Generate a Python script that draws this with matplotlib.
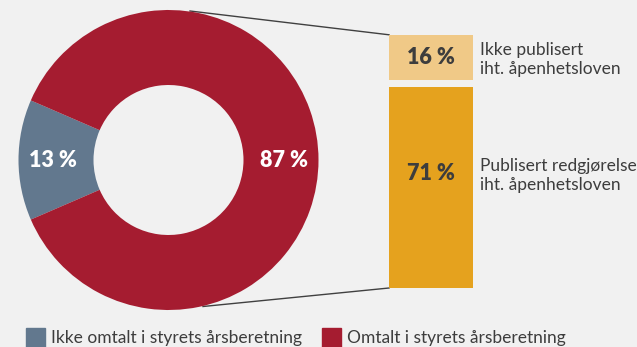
import matplotlib.pyplot as plt
from matplotlib.patches import Rectangle

# donut: omtalt / ikke omtalt i styrets årsberetning
donut_labels = ['Ikke omtalt i styrets årsberetning', 'Omtalt i styrets årsberetning']
donut_values = [13, 87]
donut_colors = ['#62788e', '#a51c30']

# søyle: fordeling av de 87 %
bar_labels = ['Publisert redgjørelse\niht. åpenhetsloven', 'Ikke publisert\niht. åpenhetsloven']
bar_values = [71, 16]
bar_colors = ['#e5a21e', '#f0c987']

bg = '#f1f1f1'
txt = '#3d3d3d'
plt.rcParams['font.family'] = ['Lato', 'DejaVu Sans']

fig = plt.figure(figsize=(6.37, 3.47), dpi=100, facecolor=bg)
ax = fig.add_axes([0, 0, 1, 1])
ax.set_facecolor(bg)

# koordinater i piksler (y nedover)
cx, cy, r = 168.5, 160, 150
start = 180 - donut_values[0] * 360 / 100 / 2
wedges, _ = ax.pie(donut_values, colors=donut_colors, center=(cx, cy), radius=r,
                   startangle=start, counterclock=True,
                   wedgeprops=dict(width=r * 0.5, linewidth=0))
for w in wedges:
    w.set_zorder(3)

ax.text(cx - 116, cy, f'{donut_values[0]} %', color='white', fontsize=15.5,
        fontweight='heavy', ha='center', va='center', zorder=4)
ax.text(cx + 115, cy, f'{donut_values[1]} %', color='white', fontsize=15.5,
        fontweight='heavy', ha='center', va='center', zorder=4)

# søyle
bx, bw = 431, 84
px = 2.83
gap = 7
bottom = 288
for val, col, lab in zip(bar_values, bar_colors, bar_labels):
    h = val * px
    ax.bar(bx, -h, bottom=bottom, width=bw, color=col, zorder=3)
    ym = bottom - h + h * (0.43 if val > 20 else 0.5)
    ax.text(bx, ym, f'{val} %', color=txt, fontsize=15.5, fontweight='heavy',
            ha='center', va='center', zorder=4)
    ax.text(480, ym + 2, lab, color=txt,
            fontsize=12.5, ha='left', va='center', linespacing=1.25, zorder=4)
    bottom = bottom - h - gap
top_bar = bottom + gap

# forbindelseslinjer
ax.plot([190, bx - bw / 2], [11, top_bar], color='#404040', lw=1, zorder=2)
ax.plot([203, bx - bw / 2], [306.5, 288], color='#404040', lw=1, zorder=2)

# legende
leg_x = [26, 322]
for x0, col, lab in zip(leg_x, donut_colors, donut_labels):
    ax.add_patch(Rectangle((x0, 328), 19, 20, color=col, clip_on=False))
    ax.text(x0 + 25, 338, lab, color=txt, fontsize=12.5,
            ha='left', va='center')

ax.set_xlim(0, 637)
ax.set_ylim(347, 0)
ax.set_aspect('equal')
ax.axis('off')

fig.savefig('out.png', dpi=100, facecolor=bg)
